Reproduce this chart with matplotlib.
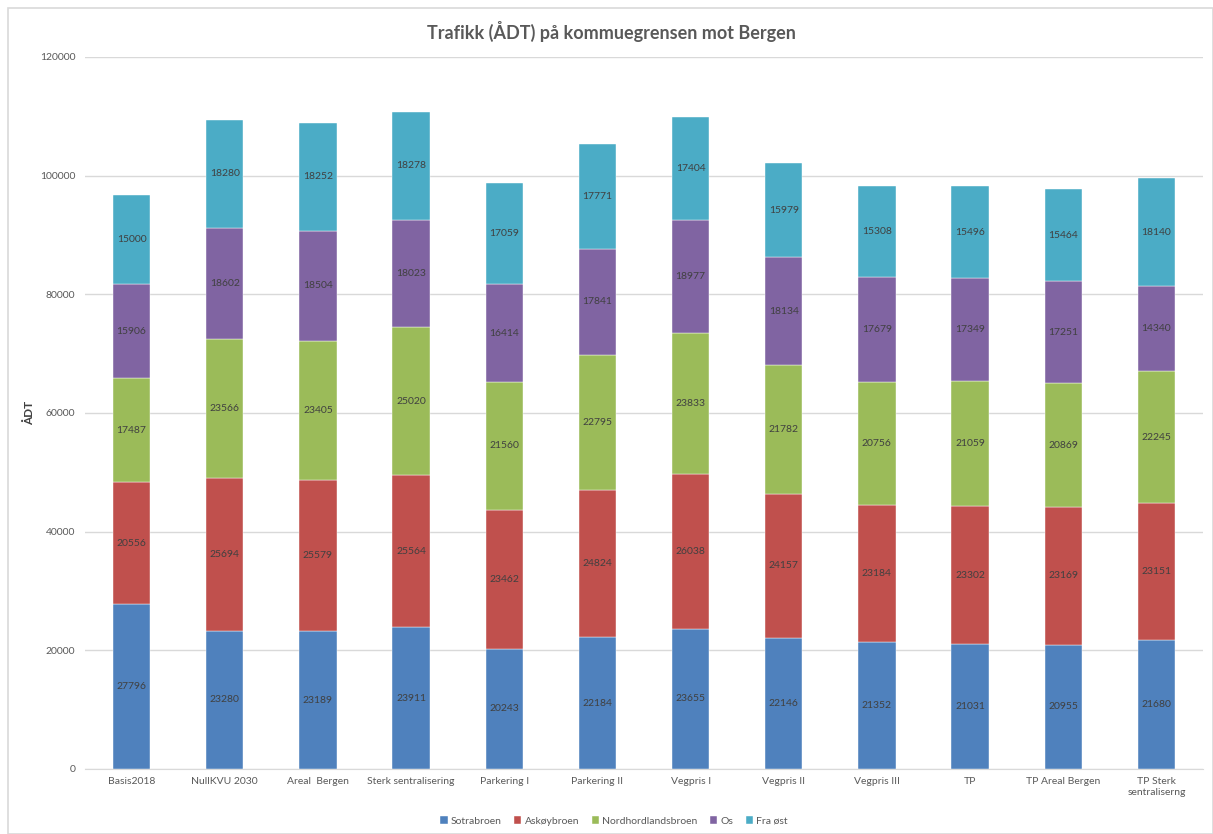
import numpy as np
import matplotlib.pyplot as plt
from matplotlib.patches import Rectangle

scenarios = ['Basis2018', 'NullKVU 2030', 'Areal  Bergen', 'Sterk sentralisering',
             'Parkering I', 'Parkering II', 'Vegpris I', 'Vegpris II', 'Vegpris III',
             'TP', 'TP Areal Bergen', 'TP Sterk\nsentraliserng']

sotrabroen = [27796, 23280, 23189, 23911, 20243, 22184, 23655, 22146, 21352, 21031, 20955, 21680]
askoybroen = [20556, 25694, 25579, 25564, 23462, 24824, 26038, 24157, 23184, 23302, 23169, 23151]
nordhordland = [17487, 23566, 23405, 25020, 21560, 22795, 23833, 21782, 20756, 21059, 20869, 22245]
os_ = [15906, 18602, 18504, 18023, 16414, 17841, 18977, 18134, 17679, 17349, 17251, 14340]
fra_ost = [15000, 18280, 18252, 18278, 17059, 17771, 17404, 15979, 15308, 15496, 15464, 18140]

series = [('Sotrabroen', sotrabroen, '#4F81BD'),
          ('Askøybroen', askoybroen, '#C0504D'),
          ('Nordhordlandsbroen', nordhordland, '#9BBB59'),
          ('Os', os_, '#8064A2'),
          ('Fra øst', fra_ost, '#4BACC6')]

plt.rcParams['font.family'] = ['Lato', 'DejaVu Sans']

W, H = 1213, 834
fig = plt.figure(figsize=(W / 100, H / 100), dpi=100)
# thin frame round the chart area
fig.patches.append(Rectangle((8 / W, 0), 1 - 8 / W, 1 - 8 / H, transform=fig.transFigure,
                             fill=False, edgecolor='#D9D9D9', linewidth=1.2))

ax = fig.add_axes([85 / W, (H - 769) / H, 1118 / W, 712 / H])
x = np.arange(len(scenarios))
bottom = np.zeros(len(scenarios))
for name, vals, color in series:
    vals = np.array(vals)
    ax.bar(x, vals, width=0.4, bottom=bottom, color=color, label=name,
           edgecolor='white', linewidth=0.3, zorder=3)
    for xi, b, v in zip(x, bottom, vals):
        ax.text(xi, b + v / 2, str(v), ha='center', va='center', fontsize=7.5, color='#404040', zorder=4)
    bottom += vals

ax.set_xlim(-0.5, len(scenarios) - 0.5)
ax.set_ylim(0, 120000)
ax.set_yticks(np.arange(0, 120001, 20000))
ax.set_xticks(x)
ax.set_xticklabels(scenarios, fontsize=7.5, color='#595959')
ax.tick_params(axis='y', labelsize=7.5, labelcolor='#595959', length=0, pad=7)
ax.tick_params(axis='x', length=0, pad=6)
ax.grid(axis='y', color='#D9D9D9', linewidth=1, zorder=0)
for s in ['top', 'right', 'left']:
    ax.spines[s].set_visible(False)
ax.spines['bottom'].set_color('#D9D9D9')

fig.text(30 / W, 1 - 413 / H, 'ÅDT', rotation=90, ha='center', va='center',
         fontsize=8.5, fontweight='bold', color='#404040')

fig.text(0.504, 1 - 31 / H, 'Trafikk (ÅDT) på kommuegrensen mot Bergen', ha='center', va='center',
         fontsize=13, fontweight='bold', color='#595959')

fig.legend(loc='center', bbox_to_anchor=(614 / W, 1 - 821 / H), ncol=5, frameon=False, fontsize=7.5,
           handlelength=0.7, handleheight=0.7, handletextpad=0.3, columnspacing=1.2,
           labelcolor='#595959')

fig.savefig('out.png', dpi=100)
